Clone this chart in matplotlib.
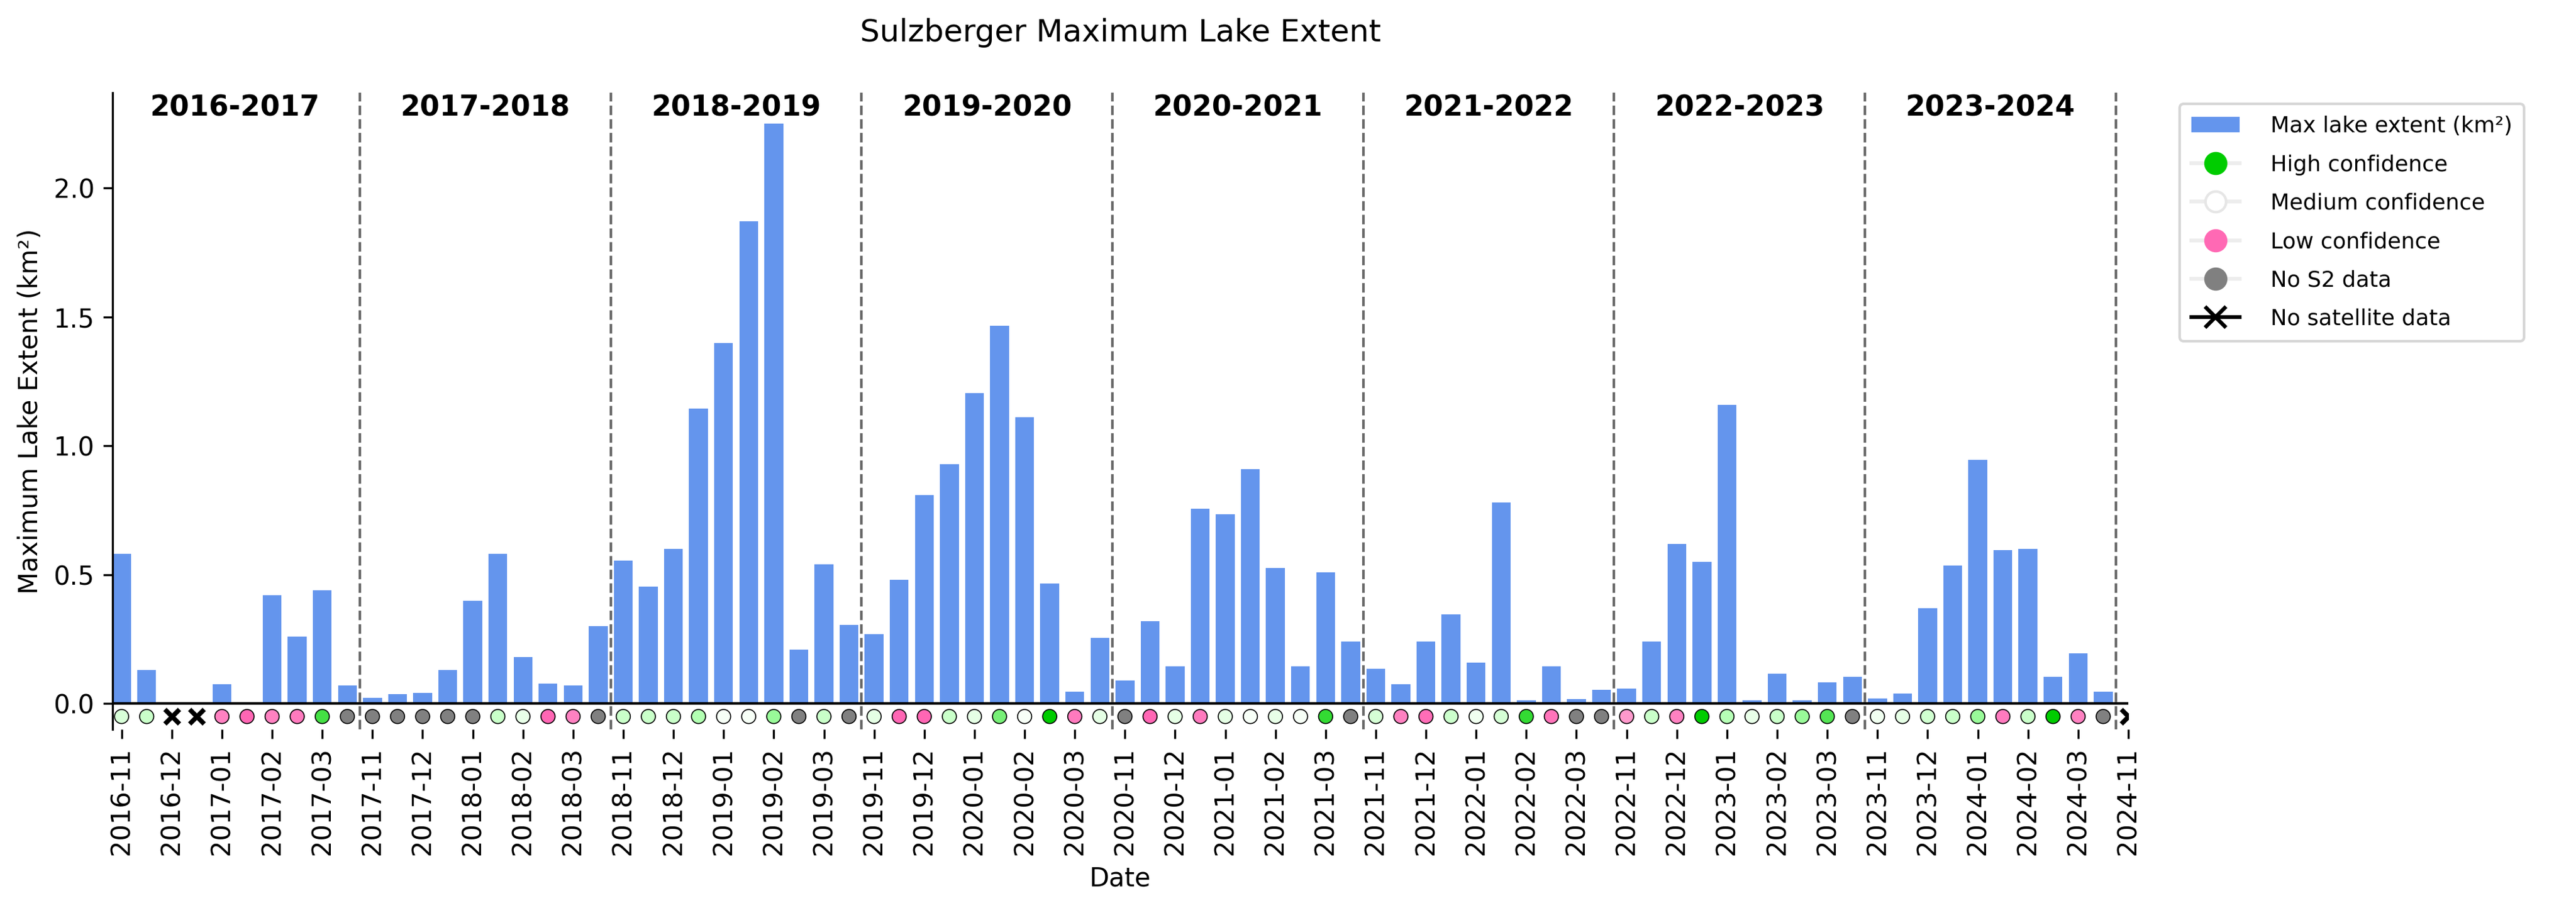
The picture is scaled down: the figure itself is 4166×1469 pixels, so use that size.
import numpy as np
import matplotlib
matplotlib.use("Agg")
import matplotlib.pyplot as plt
from matplotlib.colors import LinearSegmentedColormap
from matplotlib.lines import Line2D
from matplotlib.patches import Patch

seasons = ["2016-2017", "2017-2018", "2018-2019", "2019-2020",
           "2020-2021", "2021-2022", "2022-2023", "2023-2024"]
season_months = [11, 12, 1, 2, 3]
month_days = [1, 15]
final_date = "2024-11-01"

# max lake extent (km2) per half-month step, nan = no satellite data
extent = [
    0.58, 0.13, np.nan, np.nan, 0.075, 0.0, 0.42, 0.26, 0.44, 0.07,
    0.022, 0.036, 0.042, 0.13, 0.40, 0.58, 0.18, 0.078, 0.07, 0.30,
    0.555, 0.455, 0.60, 1.145, 1.40, 1.87, 2.25, 0.21, 0.54, 0.305,
    0.27, 0.48, 0.81, 0.93, 1.205, 1.465, 1.11, 0.465, 0.046, 0.255,
    0.09, 0.32, 0.145, 0.755, 0.735, 0.91, 0.525, 0.145, 0.51, 0.24,
    0.135, 0.075, 0.24, 0.345, 0.16, 0.78, 0.012, 0.145, 0.017, 0.054,
    0.058, 0.24, 0.62, 0.55, 1.16, 0.014, 0.115, 0.012, 0.082, 0.105,
    0.02, 0.038, 0.37, 0.535, 0.945, 0.595, 0.60, 0.105, 0.195, 0.046,
    np.nan,
]

# confidence score: >0 towards high (green), <0 towards low (pink),
# "no_s2" = no S2 data, "no_sat" = no satellite data
confidence = [
    0.2, 0.3, "no_sat", "no_sat", -0.6, -1.0, -0.6, -0.7, 0.8, "no_s2",
    "no_s2", "no_s2", "no_s2", "no_s2", "no_s2", 0.3, 0.1, -1.0, -0.6, "no_s2",
    0.3, 0.3, 0.3, 0.45, 0.0, 0.0, 0.55, "no_s2", 0.3, "no_s2",
    0.12, -1.0, -1.0, 0.3, 0.12, 0.65, 0.0, 1.0, -0.7, 0.12,
    "no_s2", -1.0, 0.12, -0.7, 0.12, 0.0, 0.1, 0.0, 0.85, "no_s2",
    0.22, -0.6, -0.9, 0.28, 0.05, 0.22, 0.85, -0.8, "no_s2", "no_s2",
    -0.25, 0.3, -0.6, 1.0, 0.42, 0.1, 0.3, 0.55, 0.75, "no_s2",
    0.05, 0.12, 0.25, 0.3, 0.55, -0.7, 0.3, 1.0, -0.6, "no_s2",
    "no_sat",
]

dates = []
for s in seasons:
    start = int(s[:4])
    for m in season_months:
        year = start if m >= 11 else start + 1
        for d in month_days:
            dates.append(f"{year}-{m:02d}-{d:02d}")
dates.append(final_date)

greens = LinearSegmentedColormap.from_list("conf_hi", ["#f7fff7", "#aaffaa", "#00cc00"])
pinks = LinearSegmentedColormap.from_list("conf_lo", ["#ffaad4", "#ff66b4"])


def marker_colour(c):
    if c == "no_s2":
        return "grey"
    if c >= 0:
        return greens(c)
    return pinks(-c)


fig = plt.figure(figsize=(4166 / 300, 1469 / 300), dpi=300)
ax = fig.add_axes([0.0437, 0.1967, 0.8262 - 0.0437, 0.8979 - 0.1967])

x = np.arange(len(dates))
ax.bar(x, extent, width=0.75, color="cornflowerblue", zorder=2)
ax.axhline(0, color="black", linewidth=1.0, zorder=3)

marker_y = -0.05
ok_x = [i for i, c in zip(x, confidence) if c != "no_sat"]
ok_c = [marker_colour(c) for c in confidence if c != "no_sat"]
ax.scatter(ok_x, [marker_y] * len(ok_x), s=30, c=ok_c, edgecolors="black",
           linewidths=0.4, zorder=4)
nosat_x = [i for i, c in zip(x, confidence) if c == "no_sat"]
ax.scatter(nosat_x, [marker_y] * len(nosat_x), s=32, marker="x", color="black",
           linewidths=1.8, zorder=4)

n_per_season = len(season_months) * len(month_days)
for k, s in enumerate(seasons):
    ax.text(k * n_per_season + (n_per_season - 1) / 2, 2.31, s, ha="center", va="center",
            fontsize=11, fontweight="bold")
    if k > 0:
        ax.axvline(k * n_per_season - 0.5, color="dimgrey", linestyle="--", linewidth=1.0, zorder=1)
ax.axvline(len(seasons) * n_per_season - 0.5, color="dimgrey", linestyle="--", linewidth=1.0, zorder=1)

tick_idx = [i for i, d in enumerate(dates) if d.endswith("-01")]
ax.set_xticks(tick_idx)
ax.set_xticklabels([dates[i][:7] for i in tick_idx], rotation=90, fontsize=10)
ax.tick_params(axis="y", labelsize=10)

ax.set_xlim(-0.36, len(dates) - 1)
ax.set_ylim(-0.1, 2.37)
ax.set_yticks([0.0, 0.5, 1.0, 1.5, 2.0])

for side in ("top", "right", "bottom"):
    ax.spines[side].set_visible(False)

ax.set_xlabel("Date", fontsize=10)
ax.set_ylabel("Maximum Lake Extent (km²)", fontsize=10)
ax.set_title("Sulzberger Maximum Lake Extent", fontsize=12, pad=20)

handles = [
    Patch(facecolor="cornflowerblue", label="Max lake extent (km²)"),
    Line2D([0], [0], marker="o", color="0.93", markerfacecolor=greens(1.0),
           markeredgecolor=greens(1.0), markersize=8, label="High confidence"),
    Line2D([0], [0], marker="o", color="0.93", markerfacecolor="white",
           markeredgecolor="0.9", markersize=8, label="Medium confidence"),
    Line2D([0], [0], marker="o", color="0.93", markerfacecolor="hotpink",
           markeredgecolor="hotpink", markersize=8, label="Low confidence"),
    Line2D([0], [0], marker="o", color="0.93", markerfacecolor="grey",
           markeredgecolor="grey", markersize=8, label="No S2 data"),
    Line2D([0], [0], marker="x", color="black", markersize=8, markeredgewidth=1.5,
           linewidth=1.5, label="No satellite data"),
]
ax.legend(handles=handles, loc="upper left", bbox_to_anchor=(1.02, 1.0), fontsize=8.5,
          labelspacing=0.8, handletextpad=1.4, handlelength=2.2, borderpad=0.55)

fig.savefig("out.png", dpi=300)
